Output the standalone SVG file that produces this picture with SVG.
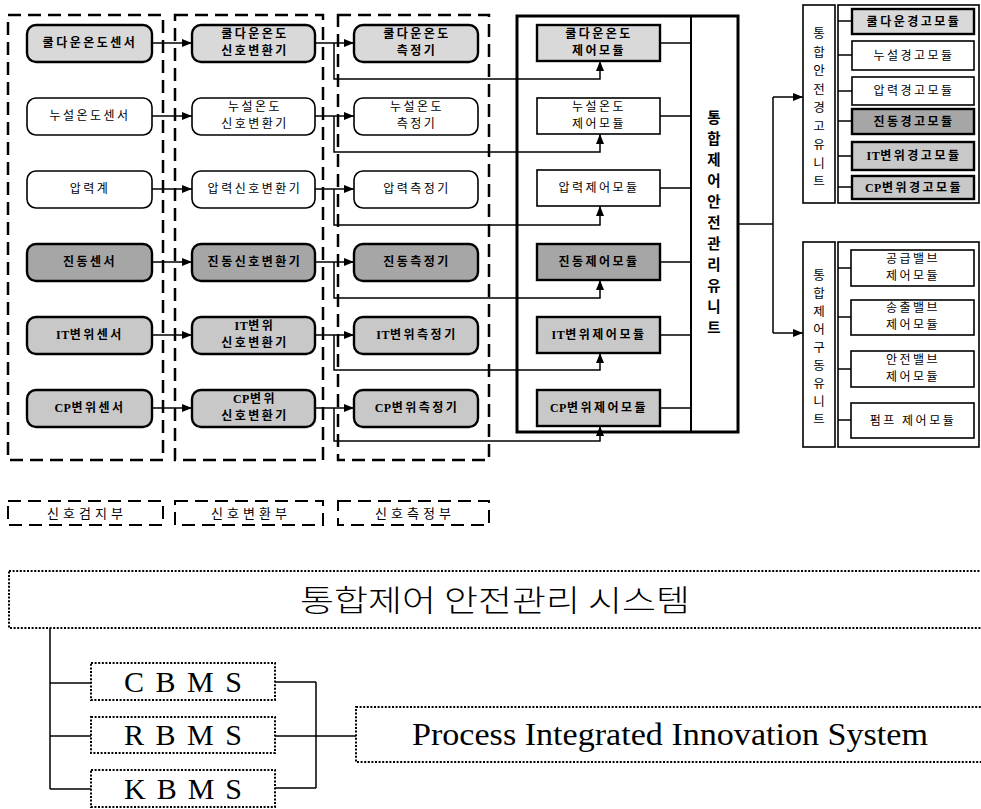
<svg xmlns="http://www.w3.org/2000/svg" width="981" height="809" viewBox="0 0 981 809">
<style>
.bg{fill:#fff}
.dbox{fill:none;stroke:#000;stroke-width:2.5;stroke-dasharray:13 7}
.dot{fill:none;stroke:#000;stroke-width:2;stroke-dasharray:2 1.6}
.rn{stroke:#000;stroke-width:1.6}
.thk{stroke-width:2.4}
.w{fill:#fff}
.g1{fill:#d9d9d9}
.g2{fill:#a6a6a6}
.g3{fill:#c8c8c8}
.ln{fill:none;stroke:#000;stroke-width:1.5}
.k{font-family:"Noto Sans CJK KR","Noto Sans",sans-serif;font-size:12px;letter-spacing:2.5px;text-anchor:middle;fill:#000}
.b{font-weight:bold}
.s{font-family:"Liberation Serif",serif;font-weight:bold;letter-spacing:0.5px}
.v{font-family:"Noto Sans CJK KR","Noto Sans",sans-serif;font-size:12.5px;text-anchor:middle;fill:#000}
.vb{font-family:"Noto Sans CJK KR","Noto Sans",sans-serif;font-size:14.5px;font-weight:bold;text-anchor:middle;fill:#000}
.lab{font-family:"Noto Sans CJK KR","Noto Sans",sans-serif;font-size:13px;letter-spacing:4px;text-anchor:middle}
.big{font-family:"Noto Sans CJK KR","Noto Sans",sans-serif;font-size:30px;text-anchor:middle;font-weight:300}
.ser{font-family:"Liberation Serif",serif;font-size:30px;text-anchor:middle}
</style>
<defs>
<marker id="ah" viewBox="0 0 10 8" refX="10" refY="4" markerWidth="10" markerHeight="8" markerUnits="userSpaceOnUse" orient="auto"><path d="M0,0 L10,4 L0,8 z" fill="#000"/></marker>
</defs>
<rect class="bg" x="0" y="0" width="981" height="809"/>

<g id="frames">
<rect class="dbox" x="8" y="15" width="155" height="445"/>
<rect class="dbox" x="175" y="15" width="148" height="445"/>
<rect class="dbox" x="338" y="15" width="151" height="445"/>
</g>

<g id="connectors">
<path class="ln" d="M152 43H192" marker-end="url(#ah)"/>
<path class="ln" d="M152 116H192" marker-end="url(#ah)"/>
<path class="ln" d="M152 189H192" marker-end="url(#ah)"/>
<path class="ln" d="M152 262H192" marker-end="url(#ah)"/>
<path class="ln" d="M152 335H192" marker-end="url(#ah)"/>
<path class="ln" d="M152 408H192" marker-end="url(#ah)"/>
<path class="ln" d="M315 43H354" marker-end="url(#ah)"/>
<path class="ln" d="M315 116H354" marker-end="url(#ah)"/>
<path class="ln" d="M315 189H354" marker-end="url(#ah)"/>
<path class="ln" d="M315 262H354" marker-end="url(#ah)"/>
<path class="ln" d="M315 335H354" marker-end="url(#ah)"/>
<path class="ln" d="M315 408H354" marker-end="url(#ah)"/>
<path class="ln" d="M334 43V79H600V61" marker-end="url(#ah)"/>
<path class="ln" d="M334 116V152H600V134" marker-end="url(#ah)"/>
<path class="ln" d="M334 189V225H600V206" marker-end="url(#ah)"/>
<path class="ln" d="M334 262V298H600V280" marker-end="url(#ah)"/>
<path class="ln" d="M334 335V370H600V353" marker-end="url(#ah)"/>
<path class="ln" d="M334 408V441H600V426" marker-end="url(#ah)"/>
<path class="ln" d="M660 43H691M660 116H691M660 188H691M660 262H691M660 335H691M660 408H691"/>
<path class="ln" d="M738 224H773M773 97V333"/>
<path class="ln" d="M773 97H803" marker-end="url(#ah)"/>
<path class="ln" d="M773 333H803" marker-end="url(#ah)"/>
<path class="ln" d="M838 21H852M838 55H852M838 91H852M838 121H852M838 156H852M838 187H852"/>
<path class="ln" d="M838 268H851M838 317H851M838 369H851M838 420H851"/>
<path class="ln" d="M50 628V789M50 683H91M50 736H91M50 789H91"/>
<path class="ln" d="M275 682H316M275 736H316M275 788H316M316 682V788M316 736H356"/>
</g>

<g id="s1"><rect class="rn thk g1" x="27" y="25" width="125" height="37" rx="9"/><text class="k b" x="90" y="47">쿨다운온도센서</text></g>
<g id="s2"><rect class="rn w" x="27" y="98" width="125" height="37" rx="9"/><text class="k" x="90" y="120">누설온도센서</text></g>
<g id="s3"><rect class="rn w" x="27" y="171" width="125" height="37" rx="9"/><text class="k" x="90" y="193">압력계</text></g>
<g id="s4"><rect class="rn thk g2" x="27" y="244" width="125" height="37" rx="9"/><text class="k b" x="90" y="266">진동센서</text></g>
<g id="s5"><rect class="rn thk g3" x="27" y="317" width="125" height="37" rx="9"/><text class="k b" x="90" y="339"><tspan class="s">IT</tspan>변위센서</text></g>
<g id="s6"><rect class="rn thk g3" x="27" y="390" width="125" height="37" rx="9"/><text class="k b" x="90" y="412"><tspan class="s">CP</tspan>변위센서</text></g>

<g id="c1"><rect class="rn thk g1" x="192" y="25" width="123" height="37" rx="9"/><text class="k b" x="255" y="38">쿨다운온도</text><text class="k b" x="255" y="55">신호변환기</text></g>
<g id="c2"><rect class="rn w" x="192" y="98" width="123" height="37" rx="9"/><text class="k" x="255" y="111">누설온도</text><text class="k" x="255" y="128">신호변환기</text></g>
<g id="c3"><rect class="rn w" x="192" y="171" width="123" height="37" rx="9"/><text class="k" x="255" y="193">압력신호변환기</text></g>
<g id="c4"><rect class="rn thk g2" x="192" y="244" width="123" height="37" rx="9"/><text class="k b" x="255" y="266">진동신호변환기</text></g>
<g id="c5"><rect class="rn thk g3" x="192" y="317" width="123" height="37" rx="9"/><text class="k b" x="255" y="330"><tspan class="s">IT</tspan>변위</text><text class="k b" x="255" y="347">신호변환기</text></g>
<g id="c6"><rect class="rn thk g3" x="192" y="390" width="123" height="37" rx="9"/><text class="k b" x="255" y="403"><tspan class="s">CP</tspan>변위</text><text class="k b" x="255" y="420">신호변환기</text></g>

<g id="m1"><rect class="rn thk g1" x="354" y="25" width="124" height="37" rx="9"/><text class="k b" x="417" y="38">쿨다운온도</text><text class="k b" x="417" y="55">측정기</text></g>
<g id="m2"><rect class="rn w" x="354" y="98" width="124" height="37" rx="9"/><text class="k" x="417" y="111">누설온도</text><text class="k" x="417" y="128">측정기</text></g>
<g id="m3"><rect class="rn w" x="354" y="171" width="124" height="37" rx="9"/><text class="k" x="417" y="193">압력측정기</text></g>
<g id="m4"><rect class="rn thk g2" x="354" y="244" width="124" height="37" rx="9"/><text class="k b" x="417" y="266">진동측정기</text></g>
<g id="m5"><rect class="rn thk g3" x="354" y="317" width="124" height="37" rx="9"/><text class="k b" x="417" y="339"><tspan class="s">IT</tspan>변위측정기</text></g>
<g id="m6"><rect class="rn thk g3" x="354" y="390" width="124" height="37" rx="9"/><text class="k b" x="417" y="412"><tspan class="s">CP</tspan>변위측정기</text></g>

<g id="ctrl-unit">
<rect x="517" y="16" width="221" height="416" fill="none" stroke="#000" stroke-width="3"/>
<path d="M691 16V432" stroke="#000" stroke-width="2"/>
<text class="vb"><tspan x="714" y="123">통</tspan><tspan x="714" y="144">합</tspan><tspan x="714" y="165">제</tspan><tspan x="714" y="186">어</tspan><tspan x="714" y="207">안</tspan><tspan x="714" y="228">전</tspan><tspan x="714" y="249">관</tspan><tspan x="714" y="270">리</tspan><tspan x="714" y="291">유</tspan><tspan x="714" y="312">니</tspan><tspan x="714" y="333">트</tspan></text>
</g>
<g id="cm1"><rect class="rn thk g1" x="537" y="25" width="123" height="36"/><text class="k b" x="599" y="38">쿨다운온도</text><text class="k b" x="599" y="55">제어모듈</text></g>
<g id="cm2"><rect class="rn w" x="537" y="98" width="123" height="36"/><text class="k" x="599" y="111">누설온도</text><text class="k" x="599" y="128">제어모듈</text></g>
<g id="cm3"><rect class="rn w" x="537" y="170" width="123" height="36"/><text class="k" x="599" y="192">압력제어모듈</text></g>
<g id="cm4"><rect class="rn thk g2" x="537" y="244" width="123" height="36"/><text class="k b" x="599" y="266">진동제어모듈</text></g>
<g id="cm5"><rect class="rn thk g3" x="537" y="317" width="123" height="36"/><text class="k b" x="599" y="339"><tspan class="s">IT</tspan>변위제어모듈</text></g>
<g id="cm6"><rect class="rn thk g3" x="537" y="390" width="123" height="36"/><text class="k b" x="599" y="412"><tspan class="s">CP</tspan>변위제어모듈</text></g>

<g id="warn-unit">
<rect x="803" y="5" width="32" height="198" fill="#fff" stroke="#000" stroke-width="1.6"/>
<rect x="838" y="5" width="141" height="198" fill="none" stroke="#000" stroke-width="1.6"/>
<text class="v"><tspan x="819" y="38">통</tspan><tspan x="819" y="56.5">합</tspan><tspan x="819" y="75">안</tspan><tspan x="819" y="93.5">전</tspan><tspan x="819" y="112">경</tspan><tspan x="819" y="130.5">고</tspan><tspan x="819" y="149">유</tspan><tspan x="819" y="167.5">니</tspan><tspan x="819" y="186">트</tspan></text>
</g>
<g id="w1"><rect class="rn thk g1" x="852" y="9" width="122" height="25"/><text class="k b" x="914" y="26">쿨다운경고모듈</text></g>
<g id="w2"><rect class="rn w" x="852" y="41" width="122" height="29"/><text class="k" x="914" y="60">누설경고모듈</text></g>
<g id="w3"><rect class="rn w" x="852" y="77" width="122" height="28"/><text class="k" x="914" y="95">압력경고모듈</text></g>
<g id="w4"><rect class="rn thk g2" x="852" y="109" width="122" height="25"/><text class="k b" x="914" y="126">진동경고모듈</text></g>
<g id="w5"><rect class="rn thk g3" x="852" y="142" width="122" height="28"/><text class="k b" x="914" y="160"><tspan class="s">IT</tspan>변위경고모듈</text></g>
<g id="w6"><rect class="rn thk g3" x="852" y="176" width="122" height="23"/><text class="k b" x="914" y="192"><tspan class="s">CP</tspan>변위경고모듈</text></g>

<g id="drive-unit">
<rect x="803" y="242" width="32" height="205" fill="#fff" stroke="#000" stroke-width="1.6"/>
<rect x="838" y="242" width="141" height="205" fill="none" stroke="#000" stroke-width="1.6"/>
<text class="v"><tspan x="819" y="280">통</tspan><tspan x="819" y="298">합</tspan><tspan x="819" y="316">제</tspan><tspan x="819" y="334">어</tspan><tspan x="819" y="352">구</tspan><tspan x="819" y="370">동</tspan><tspan x="819" y="388">유</tspan><tspan x="819" y="406">니</tspan><tspan x="819" y="424">트</tspan></text>
</g>
<g id="d1"><rect class="rn w" x="851" y="250" width="123" height="36"/><text class="k" x="913" y="263">공급밸브</text><text class="k" x="913" y="280">제어모듈</text></g>
<g id="d2"><rect class="rn w" x="851" y="300" width="123" height="35"/><text class="k" x="913" y="312">송출밸브</text><text class="k" x="913" y="329">제어모듈</text></g>
<g id="d3"><rect class="rn w" x="851" y="351" width="123" height="36"/><text class="k" x="913" y="364">안전밸브</text><text class="k" x="913" y="381">제어모듈</text></g>
<g id="d4"><rect class="rn w" x="851" y="403" width="123" height="35"/><text class="k" x="913" y="425">펌프 제어모듈</text></g>

<g id="lab1"><rect class="dbox" style="stroke-width:2" x="8" y="501" width="155" height="24"/><text class="lab" x="87" y="518">신호검지부</text></g>
<g id="lab2"><rect class="dbox" style="stroke-width:2" x="175" y="501" width="148" height="24"/><text class="lab" x="251" y="518">신호변환부</text></g>
<g id="lab3"><rect class="dbox" style="stroke-width:2" x="338" y="501" width="151" height="24"/><text class="lab" x="415" y="518">신호측정부</text></g>

<g id="sys"><rect class="dot" x="9" y="571" width="990" height="57"/><text class="big" x="495" y="611" textLength="390" lengthAdjust="spacingAndGlyphs">통합제어 안전관리 시스템</text></g>
<g id="cbms"><rect class="dot" x="91" y="663" width="184" height="37"/><text class="ser" x="183" y="692" textLength="118">C B M S</text></g>
<g id="rbms"><rect class="dot" x="91" y="717" width="184" height="36"/><text class="ser" x="183" y="745" textLength="118">R B M S</text></g>
<g id="kbms"><rect class="dot" x="91" y="770" width="184" height="37"/><text class="ser" x="183" y="799" textLength="118">K B M S</text></g>
<g id="piis"><rect class="dot" x="356" y="707" width="640" height="55"/><text class="ser" x="670" y="745" textLength="516" lengthAdjust="spacingAndGlyphs" style="font-size:31px">Process Integrated Innovation System</text></g>
</svg>
